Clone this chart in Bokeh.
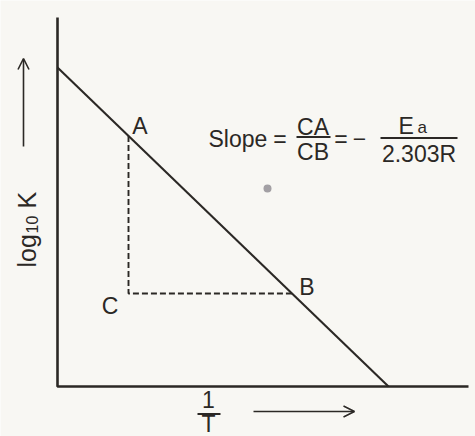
import math
from bokeh.plotting import figure
from bokeh.models import Range1d, Arrow, OpenHead, ColumnDataSource
from bokeh.core.properties import value
from bokeh.embed import file_html
from bokeh.resources import INLINE

# Arrhenius plot: log10 K falls linearly with 1/T (arbitrary units)
inv_t_ends = [0.0, 8.275]
log10_k_ends = [7.975, 0.0]
inv_t_a = 1.775      # 1/T at point A
log10_k_b = 2.325    # log10 K at point B
point_names = ["A", "B", "C"]
axis_x_end = 10.275
axis_y_end = 9.225

W, H = 475, 436
UNIT = 40.0          # screen pixels per data unit
X0, Y0 = 57, 386     # screen position of the origin
LIFT = 7             # baseline correction for SVG text placement


def px(x, y):
    """Screen pixel position -> data coordinates (for annotation layout)."""
    return (x - X0) / UNIT, (Y0 - y) / UNIT


def log10_k_at(t):
    return log10_k_ends[0] * (1 - t / inv_t_ends[1])


def inv_t_at(k):
    return inv_t_ends[1] * (1 - k / log10_k_ends[0])


ax, ay = inv_t_a, log10_k_at(inv_t_a)
bx, by = inv_t_at(log10_k_b), log10_k_b
cx, cy = inv_t_a, log10_k_b

ink = "#2b2825"
font = value("Liberation Sans")

p = figure(width=W, height=H, output_backend="svg", toolbar_location=None,
           x_range=Range1d(-X0 / UNIT, (W - X0) / UNIT),
           y_range=Range1d(-(H - Y0) / UNIT, Y0 / UNIT),
           min_border=0, min_border_left=0, min_border_right=0,
           min_border_top=0, min_border_bottom=0)
p.axis.visible = False
p.grid.visible = False
p.outline_line_color = None
p.background_fill_color = "#f8f7f3"
p.border_fill_color = "#f8f7f3"

# axes
p.line([0, 0, axis_x_end], [axis_y_end, 0, 0], line_color=ink, line_width=2.6)

# the straight line
p.line(inv_t_ends, log10_k_ends, line_color=ink, line_width=2.1)

# slope triangle
p.line([ax, cx, bx], [ay, cy, by], line_color=ink, line_width=1.9,
       line_dash="6 3")

# point labels
src = ColumnDataSource(dict(x=[ax, bx, cx], y=[ay, by, cy], name=point_names,
                            dx=[11.5, 15, -18.5],
                            dy=[-3.4 - LIFT, 0 - LIFT, 19 - LIFT]))
p.text(x="x", y="y", text="name", source=src, x_offset="dx", y_offset="dy",
       text_font=font, text_font_size="23px", text_color=ink,
       text_align="center", text_baseline="alphabetic")


def txt(x, y, s, size="23px", align="left", angle=0.0):
    if angle:
        x -= LIFT
    else:
        y -= LIFT
    dx, dy = px(x, y)
    p.text(x=[dx], y=[dy], text=[s], text_font=font, text_font_size=size,
           text_color=ink, text_align=align, text_baseline="alphabetic",
           angle=angle)


def bar(x1, x2, y, w=1.9):
    a = px(x1, y)
    b = px(x2, y)
    p.line([a[0], b[0]], [a[1], b[1]], line_color=ink, line_width=w)


# slope expression
txt(208, 145, "Slope")
txt(279.5, 145, "=", align="center")
txt(312.5, 133, "CA", align="center")
bar(296, 330, 136.5)
txt(312.5, 158, "CB", align="center")
txt(340.5, 145, "=", align="center")
txt(359, 145, "\u2212", align="center")
txt(398, 132, "E")
txt(417, 134, "a", size="17px")
bar(380, 457, 137.5)
txt(418.5, 160, "2.303R", align="center")

# y-axis title, rotated
txt(33, 267, "log", size="25px", angle=math.pi / 2)
txt(38, 233, "10", size="16px", angle=math.pi / 2)
txt(33, 208, "K", size="25px", angle=math.pi / 2)

# x-axis title
txt(208, 406, "1", align="center")
bar(197, 220, 413.5, w=2)
txt(208, 430, "T", align="center")

# direction arrows
s, e = px(23, 146), px(23, 58)
p.add_layout(Arrow(end=OpenHead(size=11, line_color=ink, line_width=1.6),
                   x_start=s[0], y_start=s[1], x_end=e[0], y_end=e[1],
                   line_color=ink, line_width=1.6))
s, e = px(253, 411), px(354, 411)
p.add_layout(Arrow(end=OpenHead(size=11, line_color=ink, line_width=1.6),
                   x_start=s[0], y_start=s[1], x_end=e[0], y_end=e[1],
                   line_color=ink, line_width=1.6))

# small grey spot
d = px(267, 188)
p.scatter([d[0]], [d[1]], size=8, color="#a3a0a4", line_color=None)

open("out.html", "w").write(file_html(p, INLINE))
